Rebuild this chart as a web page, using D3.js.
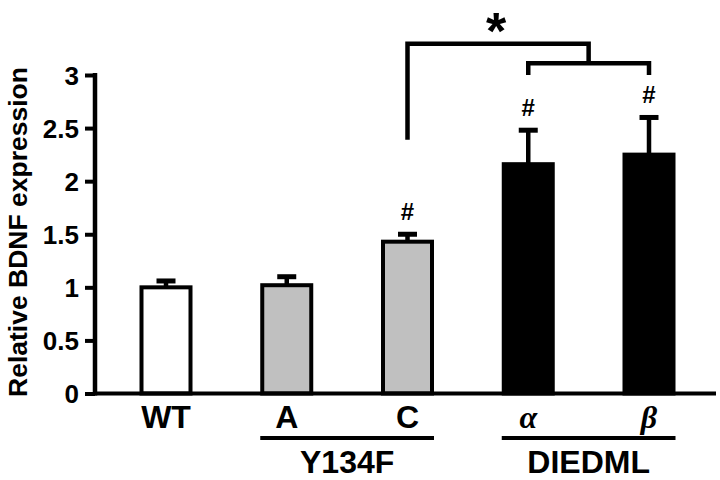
<!DOCTYPE html>
<html><head><meta charset="utf-8">
<script src="https://cdn.jsdelivr.net/npm/d3@7"></script>
<style>body{margin:0;background:#fff}svg{display:block}</style>
</head><body><svg id="c" width="720" height="480" font-family="Liberation Sans, Arial, sans-serif" font-weight="bold"></svg>
<script>
const categories = ["WT","A","C","α","β"];
const groups = ["WT","Y134F","Y134F","DIEDML","DIEDML"];
const values = [1.00, 1.02, 1.43, 2.16, 2.25];
const errors = [0.06, 0.08, 0.07, 0.32, 0.35];
const sigMarks = ["", "", "#", "#", "#"];
const yTicks = [0, 0.5, 1, 1.5, 2, 2.5, 3];
const groupLabels = [{name:"Y134F", members:["A","C"]}, {name:"DIEDML", members:["α","β"]}];

const svg = d3.select("#c");
const axisX = 95, baseY = 393.5;
const y = d3.scaleLinear().domain([0,3]).range([baseY, 75]);
const x = d3.scalePoint().domain(categories).range([166, 649]);
const fill = d3.scaleOrdinal().domain(["WT","Y134F","DIEDML"]).range(["#ffffff","#c0c0c0","#000000"]);
const barW = 49;

// y axis
const yAxis = d3.axisLeft(y).tickValues(yTicks).tickSize(10).tickSizeOuter(0).tickFormat(d => String(d));
const gy = svg.append("g").attr("transform",`translate(${axisX},0)`).call(yAxis);
gy.attr("font-family",null).attr("font-size",null);
gy.select(".domain").attr("stroke","#000").attr("stroke-width",4.5).attr("d",`M0,${baseY+2}V${y(3)-2}`);
gy.selectAll(".tick line").attr("stroke","#000").attr("stroke-width",4);
gy.selectAll(".tick text").attr("font-size",26).attr("fill","#000").attr("x",-16).attr("dy","0.36em");

svg.append("text").attr("transform",`translate(27,${232}) rotate(-90)`)
  .attr("text-anchor","middle").attr("font-size",26.5).text("Relative BDNF expression");

// bars
const bars = svg.append("g");
categories.forEach((c,i) => {
  const cx = x(c);
  const top = y(values[i]+errors[i]);
  bars.append("line").attr("x1",cx).attr("x2",cx).attr("y1",y(values[i])).attr("y2",top)
    .attr("stroke","#000").attr("stroke-width",4.5);
  bars.append("line").attr("x1",cx-9.5).attr("x2",cx+9.5).attr("y1",top).attr("y2",top)
    .attr("stroke","#000").attr("stroke-width",5);
  bars.append("rect").attr("x",cx-barW/2).attr("y",y(values[i])).attr("width",barW).attr("height",y(0)-y(values[i]))
    .attr("fill",fill(groups[i])).attr("stroke","#000").attr("stroke-width",4);
  if (sigMarks[i]) {
    bars.append("text").attr("x",cx).attr("y",top-14).attr("text-anchor","middle")
      .attr("font-size",24).text(sigMarks[i]);
  }
  const lab = svg.append("text").attr("x",cx).attr("y",428).attr("text-anchor","middle").attr("font-size",32).text(c);
  if (c==="α"||c==="β") lab.attr("font-style","italic").attr("font-family","Liberation Serif, Times New Roman, serif").attr("font-size",32);
});

// x baseline
svg.append("line").attr("x1",axisX).attr("x2",716).attr("y1",baseY).attr("y2",baseY).attr("stroke","#000").attr("stroke-width",4);

// group labels
groupLabels.forEach(g => {
  const x1 = x(g.members[0]) - barW/2 - 2, x2 = x(g.members[g.members.length-1]) + barW/2 + 2;
  svg.append("line").attr("x1",x1).attr("x2",x2).attr("y1",438).attr("y2",438).attr("stroke","#000").attr("stroke-width",4);
  svg.append("text").attr("x",(x1+x2)/2).attr("y",473).attr("text-anchor","middle").attr("font-size",32).text(g.name);
});

// brackets
const midAB = (x("α")+x("β"))/2;
const br = svg.append("g").attr("fill","none").attr("stroke","#000").attr("stroke-width",4.5);
br.append("path").attr("d",`M${x("C")},${y(2.39)}V${y(3.295)}H${midAB}V${y(3.11)}`);
br.append("path").attr("d",`M${x("α")},${y(3.0)}V${y(3.11)}H${x("β")}V${y(3.0)}`);
svg.append("text").attr("x",(x("C")+midAB)/2 - 2).attr("y",49).attr("text-anchor","middle").attr("font-size",52).text("*");
</script></body></html>
